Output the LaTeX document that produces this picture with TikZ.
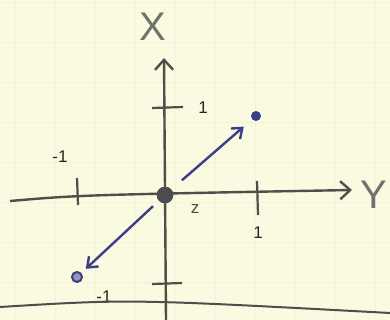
\documentclass[tikz,border=0pt]{standalone}
\usepackage{fontspec}
\setmainfont{Liberation Sans}
\usetikzlibrary{arrows.meta, positioning}
\definecolor{paper}{HTML}{F9FADF}
\definecolor{gridline}{HTML}{F2F3D8}
\definecolor{pencil}{HTML}{4E4E4A}
\definecolor{ink}{HTML}{3A3F88}
\tikzset{axis/.style={draw=pencil,line width=2.4pt,-{Straight Barb[length=10pt,width=18pt]}},tick/.style={draw=pencil,line width=2.2pt},vec/.style={draw=ink,line width=2.4pt,-{Straight Barb[length=9pt,width=14pt]}},dot/.style={circle,fill=ink,inner sep=0pt,minimum size=10pt},num/.style={text=black!85,font=\fontsize{17}{17}\selectfont},axlabel/.style={text=pencil!80,font=\fontsize{40}{40}\selectfont}}

\begin{document}
\begin{tikzpicture}[x=1pt,y=-1pt]
\fill[paper] (0,0) rectangle (390,320);
\useasboundingbox (0,0) rectangle (390,320);
% faint paper grid
\foreach \gx in {15,55,...,375} \draw[gridline,line width=0.8pt] (\gx,0) -- (\gx,320);
\foreach \gy in {2,42,...,320} \draw[gridline,line width=0.8pt] (0,\gy) -- (390,\gy);
% axes
\node[circle,draw=pencil,line width=1.8pt,fill=pencil!70!ink,inner sep=0pt,minimum size=15pt] (o) at (165,195) {};
\coordinate (yl) at (10,201);
\coordinate (yr) at (352,190);
\coordinate (xb) at (166,320);
\coordinate (xt) at (164,58);
\draw[axis] (yl) .. controls (80,195) .. (yr);
\draw[axis] (xb) -- (xt);
\node[axlabel] (xlab) at (153,27) {X};
\node[axlabel] (ylab) at (374,195) {Y};
% ticks
\coordinate (t1) at (152,108); \coordinate (t2) at (183,107);
\coordinate (t3) at (152,284); \coordinate (t4) at (182,283);
\coordinate (t5) at (77,178); \coordinate (t6) at (78,205);
\coordinate (t7) at (257,181); \coordinate (t8) at (258,215);
\draw[tick] (t1) -- (t2);
\draw[tick] (t3) -- (t4);
\draw[tick] (t5) -- (t6);
\draw[tick] (t7) -- (t8);
\node[num] (one-x) at (203,108) {1};
\node[num] (mone-x) at (104,297) {-1};
\node[num] (mone-y) at (60,157) {-1};
\node[num] (one-y) at (258,233) {1};
\node[num,text=pencil] (zlab) at (195,209) {z};
% points and vectors
\node[dot] (p) at (256,116) {};
\node[dot,fill=ink!55,draw=ink,line width=2pt,minimum size=10pt] (q) at (77,277) {};
\draw[vec,shorten <=14pt,shorten >=11pt] (o) -- (p);
\draw[vec,shorten <=8pt,shorten >=6pt] (o) -- (q);
% lower pencil line
\draw[pencil,line width=2pt] (0,307) .. controls (130,299) .. (390,313);
\end{tikzpicture}
\end{document}
